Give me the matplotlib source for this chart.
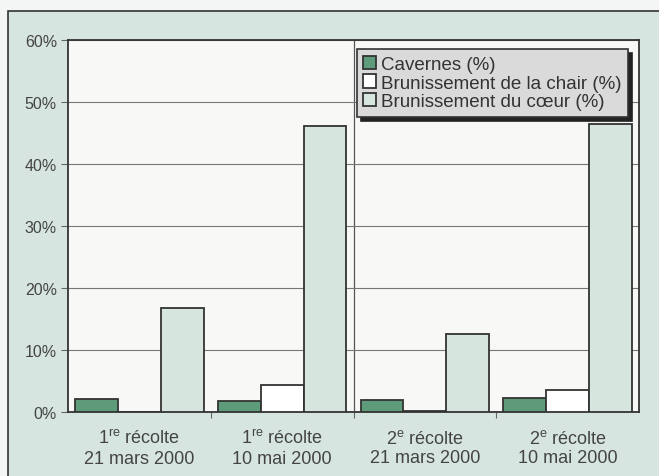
import numpy as np
import matplotlib.pyplot as plt
from matplotlib.patches import Rectangle
from matplotlib.ticker import FuncFormatter

plt.rcParams['font.family'] = ['Liberation Sans', 'DejaVu Sans']
plt.rcParams['mathtext.fontset'] = 'custom'
plt.rcParams['mathtext.rm'] = 'Liberation Sans'

# donnees
recoltes = ['1$^{\\mathrm{re}}$ récolte\n21 mars 2000',
            '1$^{\\mathrm{re}}$ récolte\n10 mai 2000',
            '2$^{\\mathrm{e}}$ récolte\n21 mars 2000',
            '2$^{\\mathrm{e}}$ récolte\n10 mai 2000']
cavernes = [2.1, 1.8, 2.0, 2.3]
brun_chair = [0.0, 4.3, 0.2, 3.6]
brun_coeur = [16.8, 46.2, 12.6, 46.5]
series = ['Cavernes (%)', 'Brunissement de la chair (%)', 'Brunissement du cœur (%)']

couleurs = ['#5e9b7a', '#ffffff', '#d6e6df']
fond = '#d6e5df'
trait = '#333333'
texte = '#444444'

fig = plt.figure(figsize=(6.59, 4.77), dpi=100)
fig.patch.set_facecolor('#f4f6f5')
# cadre exterieur
cadre = Rectangle((8 / 659, -0.1), 1.1, 1 - 12 / 477 + 0.1,
                  transform=fig.transFigure, facecolor=fond,
                  edgecolor=trait, linewidth=1.2, zorder=-10)
fig.add_artist(cadre)

ax = fig.add_axes([68 / 659, 1 - 413 / 477, (639 - 68) / 659, (413 - 41) / 477])
ax.set_facecolor('#f8f8f6')

x = np.arange(len(recoltes))
w = 0.3
for i, (vals, c, lab) in enumerate(zip([cavernes, brun_chair, brun_coeur], couleurs, series)):
    ax.bar(x + (i - 1) * w, vals, w, color=c, edgecolor=trait, linewidth=1.3,
           label=lab, zorder=3)

ax.set_xlim(-0.5, 3.5)
ax.set_ylim(0, 60)
ax.set_yticks(np.arange(0, 61, 10))
ax.yaxis.set_major_formatter(FuncFormatter(lambda v, p: f'{v:.0f}%'))
ax.yaxis.grid(True, color='#777777', linewidth=0.8, zorder=1)
ax.axvline(1.5, color='#555555', linewidth=0.9, zorder=1)

ax.set_xticks([0.5, 1.5, 2.5])
ax.set_xticklabels([])
ax.set_xticks(x, minor=True)
ax.set_xticklabels(recoltes, minor=True, fontsize=13, color=texte, linespacing=1.2)
ax.tick_params(axis='x', which='minor', length=0, pad=12)
ax.tick_params(axis='x', which='major', length=4, color='#666666')
ax.tick_params(axis='y', length=5, color='#666666', labelsize=11.5, labelcolor=texte, pad=3)

for s in ax.spines.values():
    s.set_color(trait)
    s.set_linewidth(1.3)

leg = ax.legend(loc='upper right', bbox_to_anchor=(0.981, 0.975), fontsize=13.5,
                frameon=True, fancybox=False, shadow={'color': '#222222', 'alpha': 1, 'ox': 3, 'oy': -3},
                handlelength=0.7, handleheight=0.7, handletextpad=0.25,
                borderpad=0.35, labelspacing=0.08, borderaxespad=0)
leg.get_frame().set_facecolor('#dadada')
leg.get_frame().set_edgecolor(trait)
leg.get_frame().set_linewidth(1.2)
for t in leg.get_texts():
    t.set_color('#333333')
leg.set_zorder(5)

fig.savefig('out.png', dpi=100, facecolor=fig.get_facecolor())
